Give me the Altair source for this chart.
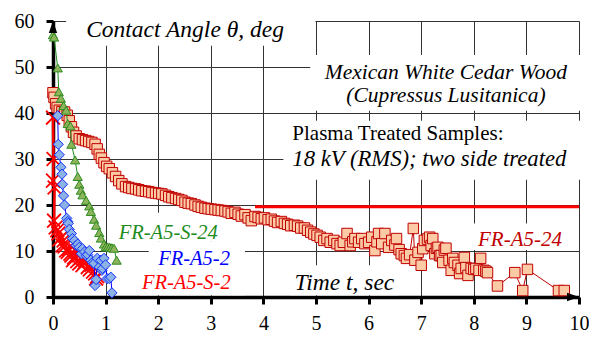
import altair as alt
import pandas as pd

# ---------------- data ----------------
# FR-A5-24 (squares)
sq_t = [0.0, 0.02, 0.05, 0.08, 0.12, 0.17, 0.22, 0.27, 0.31, 0.35, 0.39, 0.44, 0.5, 0.56, 0.62, 0.68, 0.74, 0.8, 0.84, 0.88, 0.92, 0.97, 1.02,
        1.07, 1.13, 1.19, 1.25, 1.31, 1.38, 1.44, 1.5, 1.57, 1.63, 1.69, 1.76, 1.82, 1.88, 1.95, 2.01, 2.07, 2.14, 2.2, 2.26, 2.33, 2.39,
        2.45, 2.51, 2.57, 2.63, 2.7, 2.76, 2.82, 2.89, 2.95, 3.01, 3.08, 3.14, 3.2, 3.27, 3.33, 3.39, 3.46, 3.52, 3.58, 3.65, 3.71, 3.77,
        3.84, 3.9, 3.96, 4.02, 4.09, 4.15, 4.21, 4.27, 4.34, 4.4, 4.46, 4.52, 4.59, 4.65, 4.71, 4.78, 4.84, 4.9, 4.96,
        5.02, 5.08, 5.15, 5.21, 5.27, 5.34, 5.4, 5.46, 5.52, 5.59, 5.65, 5.7, 5.74, 5.81, 5.87, 5.93, 6.0, 6.06, 6.12, 6.16, 6.19, 6.25,
        6.31, 6.38, 6.44, 6.5, 6.53, 6.58, 6.62, 6.68, 6.72, 6.78, 6.85, 6.88, 6.94, 7.0, 7.03, 7.06, 7.12, 7.16, 7.19, 7.22, 7.26, 7.29,
        7.32, 7.35, 7.38, 7.41, 7.44, 7.47, 7.53, 7.57, 7.6, 7.63, 7.7, 7.73, 7.76, 7.82, 7.85, 7.89, 7.95, 8.0, 8.04, 8.1, 8.13, 8.19,
        8.23, 8.26, 8.45, 8.78, 8.93, 9.02, 9.61, 9.72]
sq_v = [44.4, 43.4, 42.0, 41.2, 40.6, 40.3, 40.2, 39.5, 38.3, 37.0, 35.8, 35.0, 34.4, 34.2, 34.0, 33.8, 33.6, 33.2, 32.2, 31.0, 30.2, 29.2, 28.4,
        27.9, 27.0, 26.2, 25.3, 24.6, 24.0, 23.8, 23.6, 23.5, 23.3, 23.1, 23.0, 22.9, 22.7, 22.6, 22.5, 22.4, 22.1, 21.8, 21.6, 21.4, 21.2,
        21.0, 20.6, 20.4, 20.3, 20.0, 19.7, 19.5, 19.3, 19.2, 19.1, 19.0, 18.9, 18.8, 18.7, 18.5, 18.2, 18.4, 18.0, 17.6, 17.9, 17.2, 16.6,
        17.5, 17.3, 17.0, 17.2, 16.8, 16.9, 16.5, 16.2, 16.4, 16.0, 15.8, 15.5, 15.6, 15.4, 15.0, 15.0, 14.5, 14.1, 13.7,
        13.4, 13.0, 12.3, 12.7, 11.9, 12.3, 11.6, 11.2, 11.9, 13.8, 11.2, 12.0, 12.7, 11.9, 12.7, 11.6, 11.9, 13.0, 10.1, 12.0, 13.8, 11.6,
        13.8, 10.8, 12.3, 11.3, 12.7, 10.3, 9.4, 9.0, 8.4, 9.2, 14.9, 8.0, 9.7, 6.9, 10.5, 12.3, 12.6, 13.0, 11.2, 12.7, 9.4, 10.6,
        10.8, 9.0, 9.0, 7.5, 10.2, 10.6, 8.0, 5.8, 8.4, 7.5, 6.9, 5.1, 6.2, 8.6, 6.4, 4.7, 6.2, 6.0, 6.2, 5.8, 8.4, 5.8,
        5.6, 5.3, 2.4, 5.3, 1.4, 6.0, 1.4, 1.4]

# FR-A5-S-24 (triangles)
tri_t = [0.0, 0.02, 0.09, 0.11, 0.15, 0.2, 0.25, 0.28, 0.33, 0.35, 0.42, 0.47, 0.5, 0.53, 0.56, 0.63, 0.69, 0.72, 0.78, 0.82,
         0.88, 0.91, 0.97, 1.0, 1.04, 1.08, 1.12, 1.16, 1.21]
tri_v = [57.0, 56.5, 49.8, 44.6, 43.2, 41.6, 40.6, 37.7, 37.2, 33.2, 29.8, 26.2, 24.5, 23.2, 22.2, 21.0, 19.8, 18.6, 16.9, 15.6,
         14.0, 12.8, 11.5, 10.9, 10.9, 10.8, 10.7, 10.6, 8.0]

# FR-A5-2 (diamonds)
dia_t = [0.09, 0.1, 0.12, 0.15, 0.17, 0.18, 0.2, 0.22, 0.26, 0.28, 0.29, 0.31, 0.35, 0.37, 0.41, 0.44, 0.47, 0.5, 0.54, 0.56,
         0.6, 0.63, 0.66, 0.69, 0.72, 0.75, 0.78, 0.8, 0.82, 0.84, 0.88, 0.91, 0.93, 0.94, 0.97, 1.0, 1.03, 1.07, 1.1, 1.12]
dia_v = [39.4, 33.2, 30.9, 28.2, 26.7, 24.5, 22.0, 20.0, 17.1, 16.4, 16.0, 14.7, 13.8, 12.7, 12.3, 11.2, 11.5, 10.8, 9.4, 10.5,
         9.8, 9.0, 9.2, 10.1, 8.0, 7.5, 7.3, 2.5, 3.8, 8.4, 6.5, 8.0, 5.8, 6.2, 8.4, 7.0, 4.0, 4.0, 4.3, 0.9]

# FR-A5-S-2 (crosses)
cr_t = [0.0, 0.01, 0.0, 0.03, 0.02, 0.05, 0.08, 0.1, 0.12, 0.15, 0.18, 0.2, 0.22, 0.25, 0.28, 0.3, 0.33, 0.35, 0.38, 0.4,
        0.43, 0.46, 0.5, 0.53, 0.56, 0.6, 0.63, 0.66, 0.7, 0.73, 0.76, 0.8, 0.82, 0.84]
cr_v = [39.0, 30.0, 25.3, 23.8, 16.6, 15.1, 14.5, 13.8, 12.5, 12.9, 11.2, 12.3, 11.0, 10.1, 9.8, 10.5, 9.4, 9.0, 8.0, 8.6,
        10.1, 7.8, 7.3, 8.5, 6.9, 7.5, 8.6, 6.5, 6.0, 7.0, 5.5, 5.1, 4.0, 4.5]

# red horizontal line
hl_t = [3.84, 10.0]
hl_v = [19.6, 19.6]

x_ticks = list(range(0, 11))
y_ticks = list(range(0, 61, 10))

# ---------------- chart ----------------
FONT = "Liberation Serif, Times New Roman, Times, serif"
xs = alt.Scale(domain=[0, 10], nice=False, zero=False)
ys = alt.Scale(domain=[0, 60], nice=False, zero=False)
xax = alt.Axis(values=x_ticks, grid=True, labelPadding=9, labelFlush=False, labelOverlap=False)
yax = alt.Axis(values=y_ticks, grid=True, labelPadding=12, labelFlush=False, labelOverlap=False)


def X(f="t"):
    return alt.X(f"{f}:Q", scale=xs, axis=xax, title=None)


def Y(f="v"):
    return alt.Y(f"{f}:Q", scale=ys, axis=yax, title=None)


# white masks behind annotations (grid is hidden there)
masks = pd.DataFrame({
    "t": [0.25, 4.89, 4.38, 4.52, 8.0, 1.22, 1.82, 1.65],
    "t2": [4.99, 10.3, 10.3, 6.57, 9.95, 3.25, 3.65, 3.65],
    "v": [54.6, 40.5, 25.5, 0.4, 10.2, 12.0, 6.0, 0.4],
    "v2": [63.0, 52.6, 38.3, 6.9, 16.0, 18.3, 12.0, 6.0],
})
mask_layer = alt.Chart(masks).mark_rect(fill="white", stroke=None).encode(
    x=X("t"), x2="t2", y=Y("v"), y2="v2")

hl = pd.DataFrame({"t": hl_t, "v": hl_v})
hl_layer = alt.Chart(hl).mark_line(color="#FF0000", strokeWidth=3).encode(x=X(), y=Y())

sq = pd.DataFrame({"t": sq_t, "v": sq_v, "i": range(len(sq_t))})
sq_line = alt.Chart(sq).mark_line(color="#C00000", strokeWidth=1).encode(x=X(), y=Y(), order="i:Q")
sq_pts = alt.Chart(sq).mark_point(shape="square", filled=True, fill="#FCCBA6", stroke="#C00000",
                                  strokeWidth=1, size=110, opacity=1).encode(x=X(), y=Y())

cr = pd.DataFrame({"t": cr_t, "v": cr_v, "i": range(len(cr_t))})
cr_line = alt.Chart(cr).mark_line(color="#FF0000", strokeWidth=2.5).encode(x=X(), y=Y(), order="i:Q")
cr_pts = alt.Chart(cr).mark_point(shape="M-1,-1L1,1M-1,1L1,-1", filled=False, stroke="#FF0000",
                                  strokeWidth=1.8, size=190, opacity=1).encode(x=X(), y=Y())

dia = pd.DataFrame({"t": dia_t, "v": dia_v, "i": range(len(dia_t))})
dia_line = alt.Chart(dia).mark_line(color="#0000FF", strokeWidth=1).encode(x=X(), y=Y(), order="i:Q")
dia_pts = alt.Chart(dia).mark_point(shape="diamond", filled=True, fill="#8DB3E6", stroke="#1030FF",
                                    strokeWidth=1, size=105, opacity=1).encode(x=X(), y=Y())

tri = pd.DataFrame({"t": tri_t, "v": tri_v, "i": range(len(tri_t))})
tri_line = alt.Chart(tri).mark_line(color="#1E8C1E", strokeWidth=1).encode(x=X(), y=Y(), order="i:Q")
tri_pts = alt.Chart(tri).mark_point(shape="triangle-up", filled=True, fill="#8DB45A", stroke="#2E8B22",
                                    strokeWidth=1, size=85, opacity=1).encode(x=X(), y=Y())


def text_layer(rows, color="black", style="italic", align="left", size=20):
    df = pd.DataFrame(rows, columns=["t", "v", "label"])
    return alt.Chart(df).mark_text(font=FONT, fontSize=size, fontStyle=style, color=color,
                                   align=align, baseline="middle").encode(x=X(), y=Y(), text="label:N")


texts = [
    text_layer([(0.63, 58.1, "Contact Angle θ, deg")], size=23.5),
    text_layer([(4.59, 3.0, "Time t, sec")], size=23.5),
    text_layer([(4.55, 29.9, "18 kV (RMS); two side treated")], size=22.7),
    text_layer([(7.47, 48.7, "Mexican White Cedar Wood"), (7.47, 43.75, "(Cupressus Lusitanica)")],
               align="center", size=21.5),
    text_layer([(4.55, 35.5, "Plasma Treated Samples:")], style="normal", size=21),
    text_layer([(8.08, 12.5, "FR-A5-24")], color="#C00000", size=21),
    text_layer([(1.25, 14.0, "FR-A5-S-24")], color="#1E8C1E", size=20.5),
    text_layer([(2.0, 8.2, "FR-A5-2")], color="#0000FF", size=20.5),
    text_layer([(1.69, 3.0, "FR-A5-S-2")], color="#FF0000", size=20.5),
]

arrow_y = alt.Chart(pd.DataFrame({"t": [0.0], "v": [60.0]})).mark_point(
    shape="M0,0L-0.7,2L0.7,2Z", filled=True, fill="black", stroke=None, size=144, opacity=1
).encode(x=X(), y=Y())
arrow_x = alt.Chart(pd.DataFrame({"t": [10.0], "v": [0.0]})).mark_point(
    shape="M0,0L-2,-0.7L-2,0.7Z", filled=True, fill="black", stroke=None, size=144, opacity=1
).encode(x=X(), y=Y())

chart = alt.layer(
    mask_layer, hl_layer, sq_line, sq_pts, cr_line, cr_pts, dia_line, dia_pts, tri_line, tri_pts,
    *texts, arrow_y, arrow_x
).properties(
    width=526, height=276, autosize="none",
    padding={"left": 45, "top": 13, "right": 10, "bottom": 38},
).configure_view(stroke=None).configure_axis(
    domainColor="black", domainWidth=3.5, tickColor="black", tickWidth=3, tickSize=7,
    gridColor="#333333", gridWidth=1, gridOpacity=1,
    labelFont=FONT, labelFontSize=20, labelColor="black",
)

chart.save("out.html", embed_options={"renderer": "svg", "actions": False})
